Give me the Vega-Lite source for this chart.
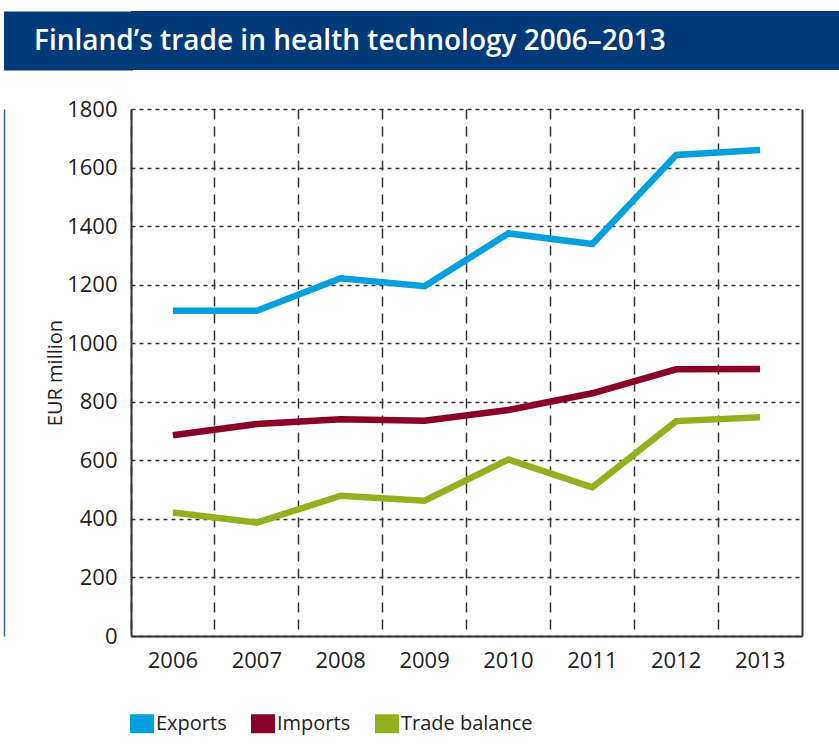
{
  "$schema": "https://vega.github.io/schema/vega-lite/v6.json",
  "padding": {"left": 4, "top": 11, "right": 0, "bottom": 0},
  "background": "white",
  "spacing": 28,
  "config": {
    "font": "Open Sans",
    "view": {"stroke": null}
  },
  "vconcat": [
    {
      "width": 708,
      "height": 59,
      "view": {"fill": "#003a78", "stroke": null},
      "data": {"values": [{"t": "Finland’s trade in health technology 2006–2013"}]},
      "mark": {
        "type": "text",
        "align": "left",
        "baseline": "middle",
        "x": -97,
        "dy": 1,
        "color": "white",
        "fontSize": 28,
        "fontWeight": 600,
        "font": "Open Sans"
      },
      "encoding": {
        "text": {"field": "t", "type": "nominal"},
        "y": {
          "field": "t",
          "type": "nominal",
          "axis": {
            "orient": "left",
            "title": null,
            "labels": false,
            "ticks": false,
            "grid": false,
            "offset": 63,
            "domainColor": "#003a78",
            "domainWidth": 129,
            "domainCap": "butt"
          }
        }
      }
    },
    {
      "width": 671,
      "height": 527,
      "data": {
        "values": [
          {"year": "2006", "series": "Exports", "value": 1111},
          {"year": "2007", "series": "Exports", "value": 1111},
          {"year": "2008", "series": "Exports", "value": 1222},
          {"year": "2009", "series": "Exports", "value": 1195},
          {"year": "2010", "series": "Exports", "value": 1375},
          {"year": "2011", "series": "Exports", "value": 1339},
          {"year": "2012", "series": "Exports", "value": 1643},
          {"year": "2013", "series": "Exports", "value": 1660},
          {"year": "2006", "series": "Imports", "value": 686},
          {"year": "2007", "series": "Imports", "value": 724},
          {"year": "2008", "series": "Imports", "value": 740},
          {"year": "2009", "series": "Imports", "value": 735},
          {"year": "2010", "series": "Imports", "value": 772},
          {"year": "2011", "series": "Imports", "value": 829},
          {"year": "2012", "series": "Imports", "value": 911},
          {"year": "2013", "series": "Imports", "value": 912},
          {"year": "2006", "series": "Trade balance", "value": 422},
          {"year": "2007", "series": "Trade balance", "value": 387},
          {"year": "2008", "series": "Trade balance", "value": 479},
          {"year": "2009", "series": "Trade balance", "value": 462},
          {"year": "2010", "series": "Trade balance", "value": 603},
          {"year": "2011", "series": "Trade balance", "value": 508},
          {"year": "2012", "series": "Trade balance", "value": 734},
          {"year": "2013", "series": "Trade balance", "value": 747}
        ]
      },
      "encoding": {
        "x": {
          "field": "year",
          "type": "ordinal",
          "scale": {"type": "band", "paddingInner": 0, "paddingOuter": 0},
          "axis": {
            "title": null,
            "bandPosition": 0,
            "grid": true,
            "gridDash": [10, 7],
            "gridColor": "#333333",
            "gridWidth": 1.5,
            "ticks": false,
            "labelAngle": 0,
            "labelPadding": 14,
            "labelFontSize": 22,
            "labelColor": "#222222",
            "labelFont": "Open Sans",
            "domainColor": "#333333",
            "domainWidth": 2
          }
        }
      },
      "layer": [
        {
          "mark": {"type": "line", "strokeWidth": 6.5},
          "encoding": {
            "y": {
              "field": "value",
              "type": "quantitative",
              "scale": {"domain": [0, 1800], "nice": false},
              "axis": {
                "orient": "left",
                "values": [0, 200, 400, 600, 800, 1000, 1200, 1400, 1600, 1800],
                "format": "d",
                "title": "EUR million",
                "titleFontSize": 20,
                "titleFontWeight": "normal",
                "titleColor": "#222222",
                "titleFont": "Open Sans",
                "titlePadding": 1,
                "grid": true,
                "gridDash": [4, 4],
                "gridColor": "#333333",
                "gridWidth": 1.5,
                "ticks": false,
                "labelPadding": 14,
                "labelFontSize": 22,
                "labelColor": "#222222",
                "labelFont": "Open Sans",
                "domainColor": "#333333",
                "domainWidth": 2
              }
            },
            "color": {
              "field": "series",
              "type": "nominal",
              "scale": {
                "domain": ["Exports", "Imports", "Trade balance"],
                "range": ["#00a0de", "#8a0028", "#93b01f"]
              },
              "legend": {
                "orient": "bottom",
                "offset": 30.5,
                "direction": "horizontal",
                "title": null,
                "padding": 0,
                "symbolType": "stroke",
                "symbolSize": 576,
                "symbolStrokeWidth": 0,
                "symbolOffset": -10.5,
                "labelFontSize": 20,
                "labelColor": "#222222",
                "labelFont": "Open Sans",
                "labelOffset": -7.5,
                "columnPadding": -14,
                "encode": {"symbols": {"update": {"strokeWidth": {"value": 19}, "strokeCap": {"value": "butt"}}}}
              }
            }
          }
        },
        {
          "mark": {"type": "point", "opacity": 0},
          "encoding": {
            "y": {
              "field": "value",
              "type": "quantitative",
              "axis": {
                "orient": "right",
                "title": null,
                "labels": false,
                "ticks": false,
                "grid": false,
                "domainColor": "#333333",
                "domainWidth": 2
              }
            }
          }
        },
        {
          "mark": {"type": "point", "opacity": 0},
          "encoding": {
            "y": {
              "field": "value",
              "type": "quantitative",
              "axis": {
                "orient": "left",
                "offset": 127,
                "title": null,
                "labels": false,
                "ticks": false,
                "grid": false,
                "domainColor": "#2c64ad",
                "domainWidth": 1.5
              }
            }
          }
        }
      ],
      "resolve": {"axis": {"y": "independent"}}
    }
  ]
}
